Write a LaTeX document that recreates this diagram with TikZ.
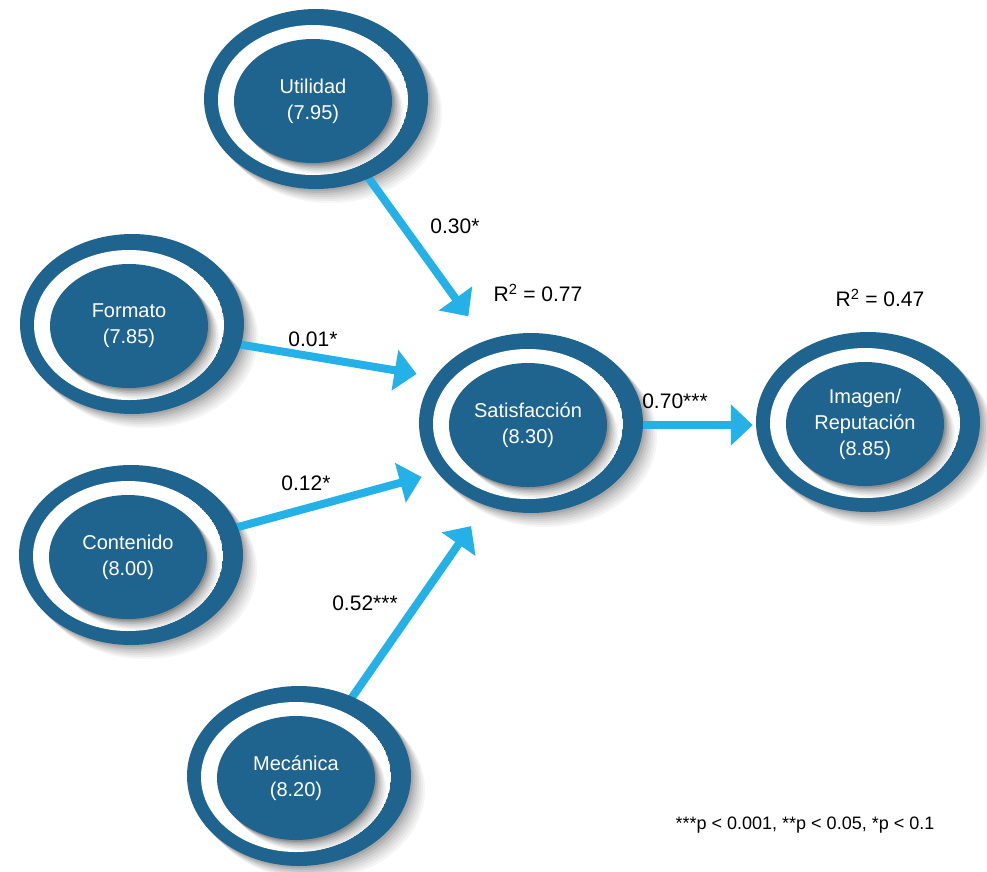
\documentclass[tikz,border=0pt]{standalone}
\usepackage{fontspec}
\setmainfont{Liberation Sans}
\usetikzlibrary{arrows.meta,backgrounds,shapes.geometric}
\definecolor{ringblue}{RGB}{31,100,142}
\definecolor{linkblue}{RGB}{36,177,231}

\begin{document}
\begin{tikzpicture}[x=1pt,y=-1pt]
\tikzstyle{every node}+=[inner sep=0pt]
\tikzstyle{var}=[ellipse,fill=ringblue,minimum width=158pt,minimum height=124pt,text=white,align=center,font=\fontsize{20}{26}\selectfont]
\tikzstyle{coef}=[font=\fontsize{21}{25}\selectfont]
\tikzstyle{link}=[draw=linkblue,line width=8pt,-{Triangle[width=40pt,length=22pt]}]
\useasboundingbox (0,0) rectangle (987,871);

\node[var] (util) at (313,101) {Utilidad\\(7.95)};
\node[var] (form) at (129,326) {Formato\\(7.85)};
\node[var] (cont) at (128,557) {Contenido\\(8.00)};
\node[var] (mec) at (296,778) {Mecánica\\(8.20)};
\node[var] (sat) at (528,425) {Satisfacción\\(8.30)};
\node[var] (img) at (865,424) {Imagen/\\Reputación\\(8.85)};

\node[coef] (c1) at (455,226) {0.30*};
\node[coef] (c2) at (313,339) {0.01*};
\node[coef] (c3) at (306,483) {0.12*};
\node[coef] (c4) at (365,603) {0.52***};
\node[coef] (c5) at (675,401) {0.70***};
\node[coef] (r1) at (538,293) {R\textsuperscript{2} = 0.77};
\node[coef] (r2) at (880,298) {R\textsuperscript{2} = 0.47};
\node[font=\fontsize{18}{22}\selectfont] (note) at (805,825) {***p < 0.001, **p < 0.05, *p < 0.1};

\begin{pgfonlayer}{background}
% outer shadows
\foreach \v in {util,form,cont,mec,sat,img}
  \foreach \k/\c in {7/4,6/8,5/12,4/17,3/22,2/28,1/34}
    \fill[black!\c] ([shift={(3+2*\k,-2+2*\k)}]\v.center) ellipse (112 and 90);
\draw[link,shorten >=61pt] (util) -- (sat.112);
\draw[link,shorten >=54pt] (form) -- (sat.144);
\draw[link,shorten >=47pt] (cont) -- (sat.213);
\draw[link,shorten >=52pt] (mec) -- (sat.245);
\draw[link,shorten >=33pt] (sat.east) -- (sat.east -| img.west);
% rings and inner shadows
\foreach \v in {util,form,cont,mec,sat,img}{
  \fill[ringblue] ([shift={(3,-2)}]\v.center) ellipse (112 and 90);
  \begin{scope}
  \clip ([shift={(0,-1)}]\v.center) ellipse (95 and 75);
  \fill[white] ([shift={(0,-1)}]\v.center) ellipse (95 and 75);
  \foreach \k/\c in {7/4,6/9,5/14,4/20,3/27,2/35,1/44}
    \fill[black!\c] ([shift={(1.6*\k,1.6*\k)}]\v.center) ellipse (79 and 62);
  \end{scope}
}
\end{pgfonlayer}
\end{tikzpicture}
\end{document}
